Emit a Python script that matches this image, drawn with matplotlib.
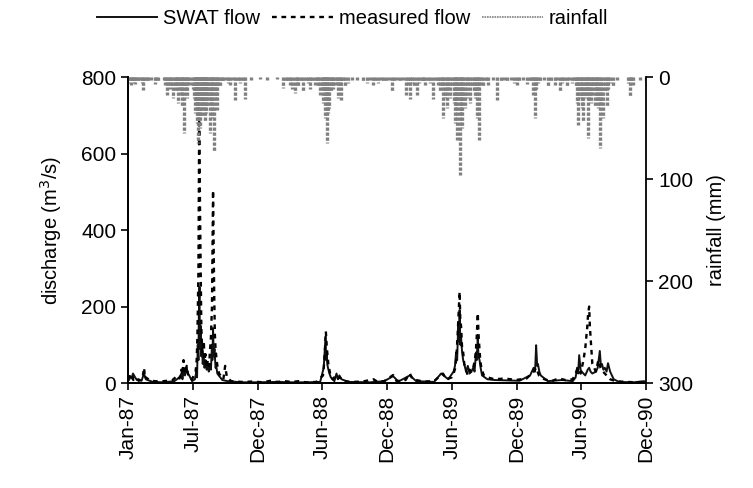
import numpy as np
import pandas as pd
import matplotlib
matplotlib.use("Agg")
import matplotlib.pyplot as plt
import matplotlib.dates as mdates

plt.rcParams["font.family"] = ["Liberation Sans", "DejaVu Sans"]

# ------------------------------------------------------------------
# Data, days counted from 1 Jan 1987
# ------------------------------------------------------------------
start = pd.Timestamp("1987-01-01")

meas_day = [0, 4, 8, 12, 15, 20, 25, 30, 35, 42, 45, 48, 50, 60, 75, 90, 110, 125,
            140, 145, 150, 153, 156, 160, 163, 165, 170, 180, 190, 193, 195, 198,
            200, 203, 206, 208, 210, 213, 215, 218, 220, 225, 228, 230, 233, 236,
            239, 242, 244, 246, 249, 252, 256, 260, 268, 273, 278, 290, 320, 350,
            380, 400, 420, 440, 460, 480, 500, 530, 548, 551, 553, 556, 559, 561,
            563, 566, 568, 575, 585, 590, 595, 605, 630, 660, 690, 700, 720, 745,
            755, 780, 792, 800, 830, 860, 885, 895, 910, 915, 920, 923, 926, 929,
            932, 934, 936, 939, 942, 945, 948, 955, 960, 965, 970, 975, 978, 980,
            983, 985, 987, 990, 993, 1000, 1010, 1030, 1060, 1090, 1120, 1140,
            1147, 1155, 1170, 1190, 1210, 1230, 1250, 1265, 1272, 1280, 1285,
            1288, 1291, 1293, 1296, 1298, 1300, 1305, 1315, 1322, 1328, 1335,
            1345, 1355, 1370, 1400, 1430, 1455]
meas_flow = [10, 18, 15, 22, 8, 14, 12, 6, 8, 20, 40, 12, 15, 8, 5, 4, 6, 8,
             20, 12, 35, 22, 60, 25, 35, 45, 15, 10, 30, 60, 120, 300,
             690, 400, 150, 90, 80, 110, 60, 75, 40, 60, 45, 80, 120, 200,
             504, 250, 130, 90, 60, 40, 25, 20, 10, 45, 15, 5, 3, 4,
             2, 6, 3, 5, 3, 5, 2, 3, 20, 50, 80, 135, 90, 70,
             50, 35, 25, 10, 20, 12, 15, 5, 3, 4, 10, 4, 5, 21,
             5, 8, 25, 10, 4, 5, 25, 10, 15, 25, 40, 70, 120, 180,
             239, 160, 150, 90, 80, 50, 40, 20, 35, 30, 40, 60, 90, 120,
             183, 130, 100, 60, 40, 20, 15, 10, 12, 8, 12, 30,
             40, 20, 10, 5, 12, 8, 10, 40, 25, 60, 90,
             120, 150, 180, 200, 150, 120, 50, 30, 60, 40, 30,
             20, 10, 5, 3, 2, 2]

swat_day = [0, 3, 6, 10, 14, 20, 25, 30, 38, 45, 50, 55, 70, 100, 130, 145, 150,
            153, 156, 160, 165, 168, 172, 180, 188, 192, 194, 196, 198, 199, 201,
            202, 204, 206, 208, 210, 212, 215, 218, 221, 224, 227, 230, 233, 236,
            237, 239, 241, 243, 246, 248, 251, 255, 265, 280, 320, 360, 420, 460,
            500, 540, 550, 552, 555, 557, 558, 560, 562, 566, 570, 580, 586, 590,
            594, 600, 620, 680, 720, 745, 760, 792, 810, 860, 880, 900, 915, 919,
            922, 925, 928, 930, 932, 934, 936, 939, 942, 945, 950, 955, 960, 965,
            970, 974, 978, 980, 983, 985, 988, 991, 995, 1010, 1030, 1100, 1130,
            1140, 1144, 1147, 1150, 1152, 1156, 1160, 1180, 1220, 1250, 1258,
            1262, 1265, 1268, 1272, 1275, 1285, 1292, 1296, 1300, 1305, 1315,
            1320, 1326, 1329, 1332, 1336, 1340, 1345, 1349, 1355, 1365, 1380,
            1420, 1450, 1458]
swat_flow = [20, 8, 18, 12, 25, 15, 8, 10, 6, 25, 10, 8, 3, 2, 5, 15, 25,
             10, 30, 20, 40, 25, 20, 5, 10, 30, 15, 100, 60, 180, 251,
             90, 150, 70, 100, 50, 75, 40, 60, 35, 45, 30, 50, 35, 100,
             60, 144, 70, 90, 40, 45, 25, 20, 8, 5, 2, 2, 3, 2,
             2, 3, 40, 70, 118, 60, 80, 50, 40, 25, 15, 5, 25, 10,
             20, 10, 3, 2, 5, 18, 4, 20, 5, 3, 25, 10, 30, 45,
             80, 60, 150, 110, 191, 100, 120, 80, 60, 50, 30, 45, 25, 30,
             40, 30, 80, 60, 118, 70, 60, 40, 20, 10, 8, 6, 20,
             40, 30, 99, 45, 50, 30, 20, 5, 8, 5, 15,
             40, 25, 73, 35, 30, 20, 35, 40, 30, 25, 30,
             40, 84, 45, 50, 35, 40, 30, 52, 30, 10, 3,
             2, 5, 2]

rain_day = [1, 4, 7, 10, 13, 16, 20, 24, 29, 35, 40, 43, 48, 52, 57, 66, 76, 80,
            85, 100, 105, 109, 113, 118, 122, 127, 131, 135, 138, 141, 145, 148,
            151, 155, 158, 162, 165, 170, 174, 182, 185, 188, 190, 193, 195, 198,
            200, 202, 205, 207, 210, 212, 214, 216, 218, 220, 223, 226, 230, 233,
            236, 239, 242, 246, 249, 253, 259, 263, 268, 275, 282, 287, 294, 301,
            308, 315, 322, 329, 345, 370, 390, 420, 436, 443, 450, 456, 462, 469,
            474, 479, 486, 493, 500, 505, 511, 518, 525, 530, 535, 540, 544, 549,
            552, 554, 557, 560, 563, 566, 570, 574, 577, 582, 587, 591, 595, 598,
            604, 610, 619, 630, 643, 660, 671, 680, 689, 695, 703, 710, 717, 725,
            734, 741, 748, 756, 764, 772, 781, 786, 792, 798, 804, 811, 818, 825,
            830, 835, 842, 850, 858, 865, 870, 877, 882, 886, 890, 896, 900, 905,
            910, 915, 919, 922, 924, 928, 933, 936, 939, 942, 946, 952, 956, 961,
            966, 972, 976, 980, 984, 987, 992, 998, 1005, 1012, 1025, 1038, 1048,
            1056, 1064, 1075, 1085, 1092, 1100, 1110, 1120, 1130, 1135, 1139,
            1144, 1148, 1152, 1158, 1170, 1181, 1190, 1200, 1207, 1214, 1220,
            1226, 1233, 1240, 1247, 1254, 1258, 1261, 1265, 1269, 1272, 1275,
            1279, 1283, 1287, 1290, 1293, 1297, 1300, 1303, 1308, 1312, 1316,
            1319, 1322, 1326, 1330, 1336, 1340, 1345, 1350, 1356, 1364, 1375,
            1405, 1411, 1415, 1420, 1440, 1457]
rain_mm = [6, 3, 8, 5, 4, 6, 7, 3, 4, 3, 6, 13, 4, 3, 5, 3, 7, 3,
           5, 3, 8, 18, 6, 12, 9, 20, 10, 15, 8, 25, 12, 18,
           29, 10, 55, 15, 20, 6, 8, 12, 20, 35, 25, 45, 30, 65,
           40, 50, 20, 38, 25, 30, 15, 44, 18, 35, 28, 20, 55, 25,
           40, 15, 72, 20, 32, 8, 10, 4, 5, 3, 6, 8, 3, 22,
           4, 6, 5, 21, 3, 2, 3, 2, 11, 4, 5, 8, 12, 16,
           6, 10, 5, 15, 4, 6, 12, 5, 8, 4, 10, 18, 12, 25,
           15, 40, 20, 65, 35, 30, 15, 10, 12, 8, 6, 20, 10, 22,
           5, 10, 6, 3, 3, 4, 6, 3, 8, 5, 6, 3, 4, 5,
           3, 14, 4, 3, 5, 3, 18, 8, 21, 6, 10, 18, 6, 4,
           5, 8, 4, 6, 21, 5, 8, 15, 10, 40, 20, 30, 12, 20,
           10, 25, 45, 30, 62, 20, 96, 35, 50, 22, 30, 20, 8, 25,
           10, 15, 20, 40, 12, 62, 8, 10, 4, 8, 3, 22, 4,
           3, 5, 3, 6, 8, 5, 3, 7, 4, 3, 18,
           40, 12, 6, 5, 3, 10, 4, 8, 3, 15, 6,
           4, 9, 3, 6, 4, 10, 25, 47, 20, 15, 30,
           44, 18, 20, 12, 60, 22, 25, 18, 10, 28, 15,
           22, 30, 70, 25, 40, 15, 28, 12, 6, 10, 3,
           6, 19, 5, 8, 3, 4]

to_dates = lambda d: start + pd.to_timedelta(d, unit="D")

# ------------------------------------------------------------------
# Plot
# ------------------------------------------------------------------
fig = plt.figure(figsize=(7.53, 4.88), dpi=100)
ax = fig.add_axes([0.170, 0.215, 0.688, 0.627])
ax2 = ax.twinx()

ax2.vlines(to_dates(rain_day), 0, rain_mm, color="#808080", lw=2.4,
           linestyles=(0, (1, 0.5)))
l1, = ax.plot(to_dates(swat_day), swat_flow, color="#111111", lw=1.4)
l2, = ax.plot(to_dates(meas_day), meas_flow, color="black", lw=1.7,
              dashes=(2, 2))

ax.set_ylim(0, 800)
ax.set_yticks([0, 200, 400, 600, 800])
ax2.set_ylim(300, 0)
ax2.set_yticks([0, 100, 200, 300])

xticks = [start + pd.Timedelta(days=182 * i) for i in range(9)]
ax.set_xlim(xticks[0], xticks[-1])
ax.set_xticks(xticks)
ax.xaxis.set_major_formatter(mdates.DateFormatter("%b-%y"))
plt.setp(ax.get_xticklabels(), rotation=90)

for a in (ax, ax2):
    a.spines["top"].set_visible(False)
    for s in a.spines.values():
        s.set_linewidth(1.3)
    a.tick_params(labelsize=15, width=1.2, length=5, direction="out")
ax.spines["right"].set_visible(False)

ax.set_ylabel(r"discharge (m$^{3}$/s)", fontsize=14.5, labelpad=12)
ax2.set_ylabel("rainfall (mm)", fontsize=14.5, labelpad=10)

rain_handle = plt.Line2D([], [], color="#808080", lw=1.2, ls=(0, (1, 0.5)))
fig.legend([l1, l2, rain_handle], ["SWAT flow", "measured flow", "rainfall"],
           loc="center", bbox_to_anchor=(0.468, 0.962), ncol=3, frameon=False,
           fontsize=14.5, handlelength=3.0, handletextpad=0.3,
           columnspacing=0.6)

fig.savefig("out.png", dpi=100)
